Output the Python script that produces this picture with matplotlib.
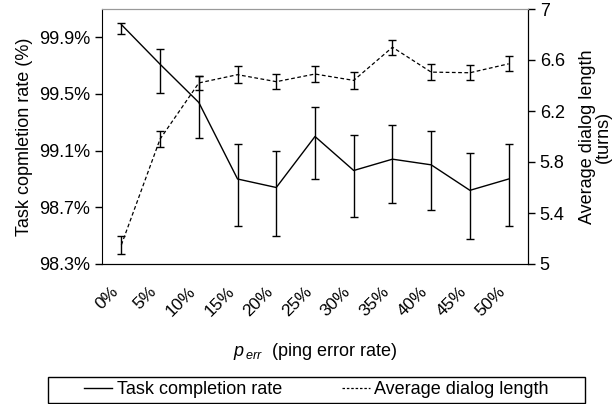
import matplotlib
matplotlib.use("Agg")
import matplotlib.pyplot as plt
import matplotlib.transforms as mtransforms
from matplotlib.lines import Line2D
from matplotlib.patches import Rectangle

plt.rcParams['font.family'] = ['Liberation Sans', 'DejaVu Sans']
plt.rcParams['mathtext.fontset'] = 'custom'
plt.rcParams['mathtext.rm'] = 'Liberation Sans'
plt.rcParams['mathtext.it'] = 'Liberation Sans:italic'

# data
err_rates = ['0%', '5%', '10%', '15%', '20%', '25%', '30%', '35%', '40%', '45%', '50%']
task_rate = [99.99, 99.71, 99.44, 98.90, 98.84, 99.20, 98.96, 99.04, 99.00, 98.82, 98.90]
task_err_up = [0.01, 0.11, 0.19, 0.25, 0.26, 0.21, 0.25, 0.24, 0.24, 0.26, 0.25]
task_err_down = [0.07, 0.20, 0.25, 0.33, 0.34, 0.30, 0.33, 0.31, 0.32, 0.34, 0.33]
dialog_len = [5.15, 5.98, 6.42, 6.485, 6.43, 6.49, 6.44, 6.70, 6.505, 6.50, 6.57]
dialog_err = [0.07, 0.065, 0.055, 0.065, 0.06, 0.06, 0.065, 0.06, 0.06, 0.06, 0.06]

x = list(range(len(err_rates)))

W, H = 613, 404
fig = plt.figure(figsize=(W / 100, H / 100), dpi=100)
ax = fig.add_axes([102 / W, 1 - 264 / H, 426 / W, 255 / H])
ax2 = ax.twinx()

ax.errorbar(x, task_rate, yerr=[task_err_down, task_err_up], color='black',
            linewidth=1, elinewidth=1, capsize=3, capthick=1)
ax2.errorbar(x, dialog_len, yerr=dialog_err, color='black', linewidth=0.9,
             linestyle=(0, (3, 2)), elinewidth=1, capsize=3, capthick=1)

ax.set_xlim(-0.5, 10.5)
ax.set_ylim(98.3, 100.1)
ax.set_yticks([98.3, 98.7, 99.1, 99.5, 99.9])
ax.set_yticklabels(['98.3%', '98.7%', '99.1%', '99.5%', '99.9%'])
ax2.set_ylim(5, 7)
ax2.set_yticks([5, 5.4, 5.8, 6.2, 6.6, 7])
ax2.set_yticklabels(['5', '5.4', '5.8', '6.2', '6.6', '7'])

ax.set_xticks(x)
ax.set_xticklabels(err_rates, rotation=45, ha='right', va='top',
                   rotation_mode='anchor', fontsize=12.5)
ax.tick_params(axis='x', length=0, pad=14)
shift = mtransforms.ScaledTranslation(-11 / 100, 0, fig.dpi_scale_trans)
for lbl in ax.get_xticklabels():
    lbl.set_transform(lbl.get_transform() + shift)

ax.tick_params(axis='y', labelsize=13, length=5, width=1, direction='out')
ax2.tick_params(axis='y', labelsize=13, length=5, width=1, direction='out')

for a in (ax, ax2):
    a.spines['top'].set_color('#999999')
ax2.spines['left'].set_visible(False)

ax.set_ylabel('Task copmletion rate (%)', fontsize=13, labelpad=4)
ax2.set_ylabel('Average dialog length\n(turns)', fontsize=13, labelpad=10,
               linespacing=0.95)
ax.set_xlabel(r'$p_{\,err}$  (ping error rate)', fontsize=13, labelpad=16)

# legend box spanning below the plot
box_l, box_r, box_t, box_b = 48, 585, 377, 403
fig.patches.append(Rectangle((box_l / W, 1 - box_b / H), (box_r - box_l) / W,
                             (box_b - box_t) / H, transform=fig.transFigure,
                             fill=False, edgecolor='black', linewidth=1))
handles = [Line2D([], [], color='black', linewidth=1),
           Line2D([], [], color='black', linewidth=0.9, linestyle=(0, (2, 1.5)))]
fig.legend(handles, ['Task completion rate', 'Average dialog length'],
           loc='center', bbox_to_anchor=((box_l + box_r) / 2 / W, 1 - (box_t + box_b) / 2 / H),
           ncol=2, fontsize=13, frameon=False, handlelength=1.55,
           handletextpad=0.25, columnspacing=3.3, borderaxespad=0, borderpad=0)

fig.savefig('out.png', dpi=100)
